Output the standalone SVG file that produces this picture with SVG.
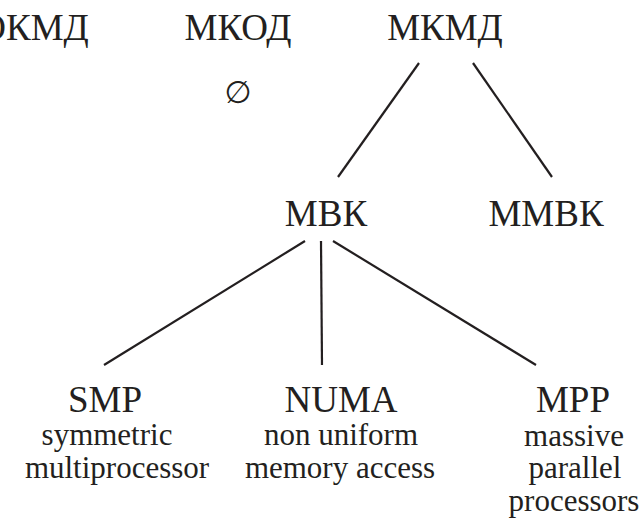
<svg xmlns="http://www.w3.org/2000/svg" width="642" height="522" viewBox="0 0 642 522">
  <style>
    text { fill: #231f20; text-anchor: middle; }
    .t { font-size: 37px; }
    .s { font-size: 31px; }
    .sym { font-size: 31px; }
    .edge { stroke: #231f20; stroke-width: 2.2; fill: none; }
  </style>
  <rect width="642" height="522" fill="#ffffff"/>

  <!-- tree connectors -->
  <g id="edges">
    <line class="edge" x1="419" y1="63" x2="338" y2="177"/>
    <line class="edge" x1="473" y1="63" x2="552" y2="177"/>
    <line class="edge" x1="305" y1="241" x2="104" y2="365"/>
    <line class="edge" x1="321" y1="241" x2="322" y2="365"/>
    <line class="edge" x1="333" y1="241" x2="536" y2="365"/>
  </g>

  <g font-family="'Liberation Serif', 'DejaVu Serif', serif">
    <g id="okmd"><text class="t" x="34" y="40">ОКМД</text></g>
    <g id="mkod">
      <text class="t" x="238" y="40">МКОД</text>
      <text class="sym" x="238" y="103" font-family="'DejaVu Sans', sans-serif">∅</text>
    </g>
    <g id="mkmd"><text class="t" x="445" y="40">МКМД</text></g>
    <g id="mvk"><text class="t" x="326" y="226">МВК</text></g>
    <g id="mmvk"><text class="t" x="546" y="226">ММВК</text></g>

    <g id="smp">
      <text class="t" x="105" y="412">SMP</text>
      <text class="s" x="107" y="445">symmetric</text>
      <text class="s" x="117" y="478">multiprocessor</text>
    </g>
    <g id="numa">
      <text class="t" x="341" y="412">NUMA</text>
      <text class="s" x="341" y="445">non uniform</text>
      <text class="s" x="340" y="478">memory access</text>
    </g>
    <g id="mpp">
      <text class="t" x="573" y="412">MPP</text>
      <text class="s" x="574" y="446">massive</text>
      <text class="s" x="575" y="478">parallel</text>
      <text class="s" x="574" y="511">processors</text>
    </g>
  </g>
</svg>
